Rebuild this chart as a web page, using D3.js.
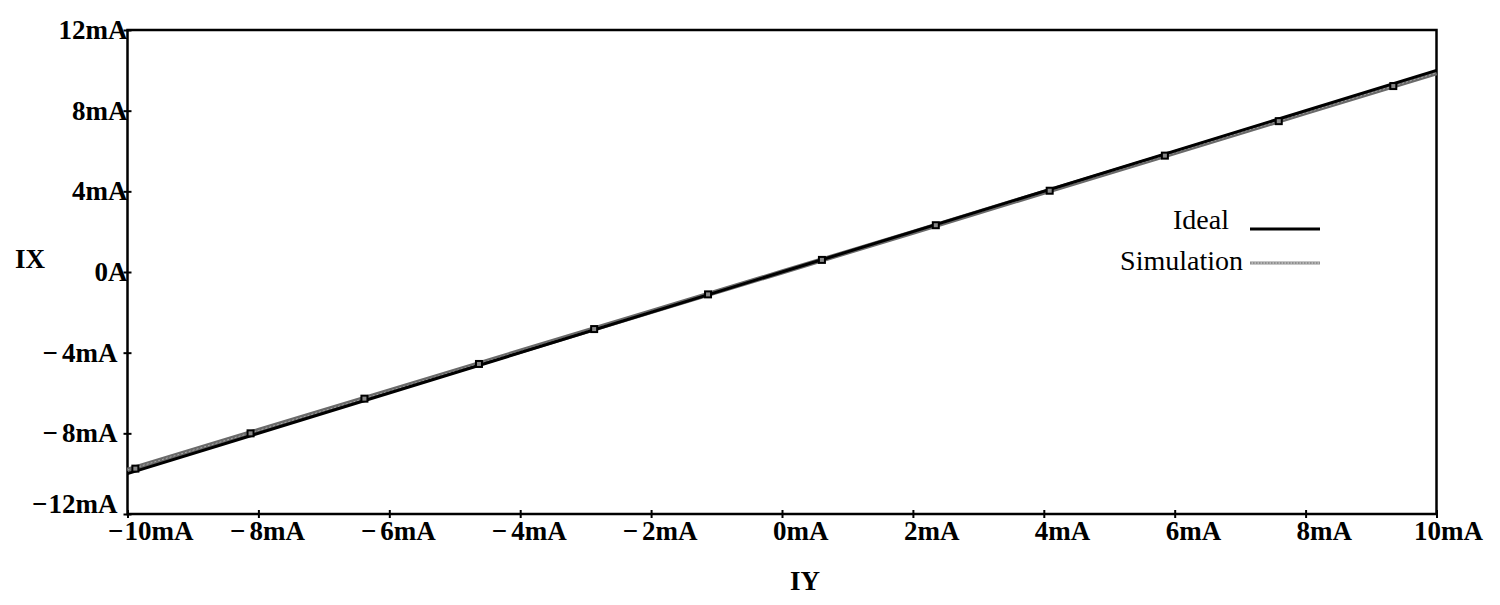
<!DOCTYPE html>
<meta charset="utf-8">
<style>
body { margin: 0; background: #fff; }
.axis text { font: bold 27px "Liberation Serif", "Times New Roman", serif; fill: #000; }
.axis line { stroke: #000; stroke-width: 2; }
.axis path { display: none; }
.title { font: bold 27px "Liberation Serif", "Times New Roman", serif; }
.legend text { font: 28px "Liberation Serif", "Times New Roman", serif; }
</style>
<svg width="1500" height="605"></svg>
<script src="https://d3js.org/d3.v7.min.js"></script>
<script>

// ideal transfer IX = IY
var idealX = [-10, 10],
    idealY = [-10, 10];

// simulated curve (mA)
var simX = [-10, -8, -6, -4, -2, 0, 2, 4, 6, 8, 10],
    simY = [-9.82, -7.86, -5.9, -3.93, -1.96, 0, 1.97, 3.95, 5.92, 7.9, 9.87];

// square markers on the simulated curve
var markX = [-9.88, -8.12, -6.38, -4.63, -2.87, -1.13, 0.61, 2.35, 4.09, 5.85, 7.59, 9.34],
    markY = [-9.75, -8.0, -6.28, -4.56, -2.83, -1.11, 0.6, 2.32, 4.03, 5.77, 7.48, 9.22];

var xTicks = [-10, -8, -6, -4, -2, 0, 2, 4, 6, 8, 10],
    yTicks = [-12, -8, -4, 0, 4, 8, 12];

var svg = d3.select("svg"),
    margin = {top: 30, right: 63.5, bottom: 91, left: 127.5},
    width = svg.attr("width") - margin.left - margin.right,
    height = svg.attr("height") - margin.top - margin.bottom;

var x = d3.scaleLinear().domain([-10, 10]).range([0, width]);
var y = d3.scaleLinear().domain([-12, 12]).range([height, 0]);

var g = svg.append("g")
    .attr("transform", "translate(" + margin.left + "," + margin.top + ")");

function fmtX(v) { return (v < 0 ? "\u2212" : "") + Math.abs(v) + "mA"; }
function fmtY(v) { return v === 0 ? "0A" : (v < 0 ? "\u2212" : "") + Math.abs(v) + "mA"; }

// put a small gap after the minus sign, as in the plot
function splitMinus(sel) {
  sel.each(function(d) {
    if (d >= 0) return;
    var t = d3.select(this), s = t.text();
    t.text("");
    t.append("tspan").text(s.charAt(0));
    t.append("tspan").attr("dx", d <= -10 ? 1 : 4).text(s.slice(1));
  });
}

// y axis
var yAxis = g.append("g")
    .attr("class", "axis")
    .call(d3.axisLeft(y).tickValues(yTicks).tickSize(4).tickPadding(0).tickFormat(fmtY));
yAxis.selectAll("line").attr("x1", 4);
yAxis.selectAll("text")
    .attr("dy", null)
    .attr("x", function(d) { return d < 0 ? -10 : 0; })
    .attr("y", function(d) { return d === -12 ? -1.5 : 8.5; })
    .call(splitMinus);

// x axis
var xAxis = g.append("g")
    .attr("class", "axis")
    .attr("transform", "translate(0," + height + ")")
    .call(d3.axisBottom(x).tickValues(xTicks).tickSize(4).tickFormat(fmtX));
xAxis.selectAll("line").attr("y1", -4);
xAxis.selectAll("text")
    .attr("dy", null)
    .attr("y", 26)
    .style("text-anchor", function(d) { return d === -10 ? "start" : "end"; })
    .attr("x", function(d) { return d === -10 ? -20 : 46; })
    .call(splitMinus);

// frame
g.append("rect")
    .attr("width", width)
    .attr("height", height)
    .attr("fill", "none")
    .attr("stroke", "#000")
    .attr("stroke-width", 2.5);

var line = d3.line()
    .x(function(d) { return x(d[0]); })
    .y(function(d) { return y(d[1]); });

var simData = simX.map(function(v, i) { return [v, simY[i]]; });
var idealData = idealX.map(function(v, i) { return [v, idealY[i]]; });

g.append("path")
    .datum(simData)
    .attr("d", line)
    .attr("fill", "none")
    .attr("stroke", "#6a6a6a")
    .attr("stroke-width", 5);

g.append("path")
    .datum(simData)
    .attr("d", line)
    .attr("fill", "none")
    .attr("stroke", "#a8a8a8")
    .attr("stroke-width", 1)
    .attr("stroke-dasharray", "2,2");

g.append("path")
    .datum(idealData)
    .attr("d", line)
    .attr("fill", "none")
    .attr("stroke", "#000")
    .attr("stroke-width", 3);

g.selectAll(".mark")
    .data(markX.map(function(v, i) { return [v, markY[i]]; }))
  .enter().append("rect")
    .attr("class", "mark")
    .attr("x", function(d) { return x(d[0]) - 3; })
    .attr("y", function(d) { return y(d[1]) - 3; })
    .attr("width", 6)
    .attr("height", 6)
    .attr("fill", "#888")
    .attr("stroke", "#000")
    .attr("stroke-width", 2);

// axis titles
svg.append("text")
    .attr("class", "title")
    .attr("x", 15)
    .attr("y", 268)
    .text("IX");

svg.append("text")
    .attr("class", "title")
    .attr("x", 790)
    .attr("y", 590)
    .text("IY");

// legend
var legend = svg.append("g").attr("class", "legend");

legend.append("text")
    .attr("x", 1229)
    .attr("y", 229)
    .attr("text-anchor", "end")
    .text("Ideal");

legend.append("line")
    .attr("x1", 1250).attr("x2", 1320)
    .attr("y1", 229).attr("y2", 229)
    .attr("stroke", "#000")
    .attr("stroke-width", 3);

legend.append("text")
    .attr("x", 1243)
    .attr("y", 270)
    .attr("text-anchor", "end")
    .text("Simulation");

legend.append("line")
    .attr("x1", 1250).attr("x2", 1320)
    .attr("y1", 263).attr("y2", 263)
    .attr("stroke", "#b4b4b4")
    .attr("stroke-width", 3.5);

legend.append("line")
    .attr("x1", 1250).attr("x2", 1320)
    .attr("y1", 263).attr("y2", 263)
    .attr("stroke", "#6a6a6a")
    .attr("stroke-width", 1)
    .attr("stroke-dasharray", "1.5,1.5");

</script>
